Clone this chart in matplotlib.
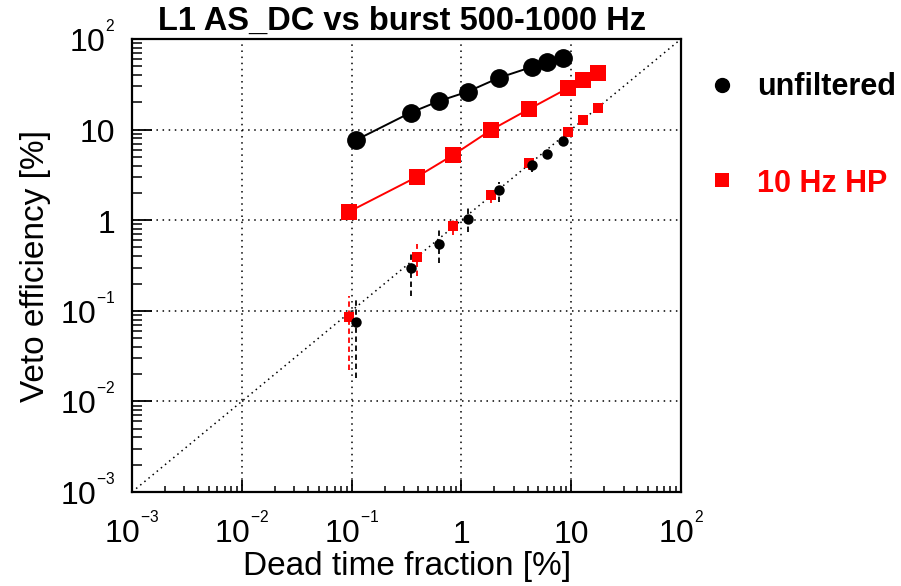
import matplotlib
matplotlib.use("Agg")
import matplotlib.pyplot as plt
from matplotlib.lines import Line2D
import numpy as np

plt.rcParams['font.family'] = ['Liberation Sans', 'DejaVu Sans']
plt.rcParams['mathtext.fontset'] = 'custom'
plt.rcParams['mathtext.rm'] = 'Liberation Sans'
plt.rcParams['mathtext.it'] = 'Liberation Sans:italic'
plt.rcParams['mathtext.bf'] = 'Liberation Sans:bold'

# ---- data ----
title = "L1 AS_DC vs burst 500-1000 Hz"
xlabel = "Dead time fraction [%]"
ylabel = "Veto efficiency [%]"
axis_limits = [1e-3, 1e2]
tick_values = [1e-3, 1e-2, 1e-1, 1, 10, 100]
tick_labels = [r"$10^{{}^{-3}}$", r"$10^{{}^{-2}}$", r"$10^{{}^{-1}}$", "1", "10",
               r"$10^{{}^{2}}$"]

# unfiltered
dead_unf = [0.110, 0.345, 0.63, 1.14, 2.21, 4.37, 5.98, 8.37]
eff_unf = [7.68, 15.4, 20.7, 26.2, 37.4, 49.1, 55.7, 62.2]
rand_unf = [0.0758, 0.294, 0.546, 1.03, 2.15, 4.07, 5.38, 7.54]
rand_unf_lo = [0.018, 0.147, 0.334, 0.746, 1.60, 3.43, 4.9, 7.0]
rand_unf_hi = [0.1316, 0.431, 0.78, 1.35, 2.66, 4.62, 5.9, 8.1]

# 10 Hz high-pass
dead_hp = [0.0946, 0.396, 0.843, 1.86, 4.15, 9.29, 12.9, 17.7]
eff_hp = [1.24, 3.02, 5.25, 9.9, 16.9, 28.6, 35.3, 42.5]
rand_hp = [0.0861, 0.395, 0.863, 1.90, 4.25, 9.48, 12.8, 17.2]
rand_hp_lo = [0.0222, 0.242, 0.687, 1.54, 3.6, 8.8, 12.0, 16.3]
rand_hp_hi = [0.147, 0.546, 1.02, 2.15, 4.7, 10.2, 13.6, 18.1]

legend_labels = ["unfiltered", "10 Hz HP"]
RED = "#ff0000"

# ---- figure ----
W, H = 901, 586
fig = plt.figure(figsize=(W / 100, H / 100), dpi=100)
ax = fig.add_axes([132 / W, 1 - 492 / H, (681 - 132) / W, (492 - 39) / H])
ax.set_xscale('log')
ax.set_yscale('log')
ax.set_xlim(axis_limits)
ax.set_ylim(axis_limits)

# grid
ax.grid(True, which='major', color='black', linestyle=(0, (1, 3)), linewidth=1.1)
ax.set_axisbelow(True)

# diagonal y = x
diag = np.array(axis_limits)
ax.plot(diag, diag, color='black', linestyle=(0, (1, 2.5)), linewidth=1.1, zorder=2)

# main efficiency curves
ax.plot(dead_unf, eff_unf, color='black', linewidth=1.4, marker='o',
        markersize=12.5, zorder=4)
ax.plot(dead_hp, eff_hp, color=RED, linewidth=1.4, marker='s',
        markersize=11, markeredgewidth=0, zorder=4)

# random-veto expectation with error bars
def errbars(x, y, lo, hi, color, marker, ms, mew):
    y = np.array(y)
    yerr = np.vstack([y - np.array(lo), np.array(hi) - y])
    eb = ax.errorbar(x, y, yerr=yerr, fmt=marker, color=color, markersize=ms,
                     markeredgewidth=mew, ecolor=color, elinewidth=1.3,
                     capsize=3, capthick=1.3, zorder=5)
    for lc in eb[2]:
        lc.set_linestyle((0, (3, 2)))
    return eb

errbars(dead_hp, rand_hp, rand_hp_lo, rand_hp_hi, RED, 's', 7.5, 0)
errbars(dead_unf, rand_unf, rand_unf_lo, rand_unf_hi, 'black', 'o', 7.5, 0)

# ticks
ax.set_xticks(tick_values)
ax.set_xticklabels(tick_labels)
ax.set_yticks(tick_values)
ax.set_yticklabels(tick_labels)
ax.tick_params(axis='y', which='major', direction='in', length=14.5, width=1.3,
               labelsize=23, pad=12, right=False, left=True)
ax.tick_params(axis='y', which='minor', direction='in', length=7, width=1.1,
               right=False, left=True)
ax.tick_params(axis='x', which='major', direction='in', length=9, width=1.3,
               labelsize=23, pad=36.5, top=False, bottom=True)
ax.tick_params(axis='x', which='minor', direction='in', length=4.5, width=1.1,
               top=False, bottom=True)
for lab in ax.get_xticklabels():
    lab.set_verticalalignment('baseline')
for lab in ax.get_yticklabels():
    lab.set_verticalalignment('baseline')
    lab.set_y(0)
ax.yaxis.set_tick_params(which='major')
# shift y tick labels down so digits are centred on ticks
import matplotlib.transforms as mtransforms
offset = mtransforms.ScaledTranslation(0, -9 / 72, fig.dpi_scale_trans)
for lab in ax.get_yticklabels():
    lab.set_transform(lab.get_transform() + offset)

for sp in ax.spines.values():
    sp.set_linewidth(1.6)

# labels
ax.set_xlabel(xlabel, fontsize=24)
ax.xaxis.set_label_coords(0.501, -0.131)
ax.set_ylabel(ylabel, fontsize=24)
ax.yaxis.set_label_coords(-0.148, 0.5)

fig.text(158 / W, 1 - 30 / H, title, fontsize=23.5, fontweight='bold',
         ha='left', va='baseline')

# legend (outside right)
fig.add_artist(Line2D([722 / W], [1 - 85 / H], transform=fig.transFigure,
                      marker='o', color='black', markersize=10, linestyle='none'))
fig.add_artist(Line2D([722 / W], [1 - 180 / H], transform=fig.transFigure,
                      marker='s', color=RED, markersize=10, markeredgewidth=0,
                      linestyle='none'))
fig.text(757 / W, 1 - 95 / H, legend_labels[0], fontsize=22, fontweight='bold',
         color='black', ha='left', va='baseline')
fig.text(757 / W, 1 - 192 / H, legend_labels[1], fontsize=22, fontweight='bold',
         color=RED, ha='left', va='baseline')

fig.savefig("out.png", dpi=100)
